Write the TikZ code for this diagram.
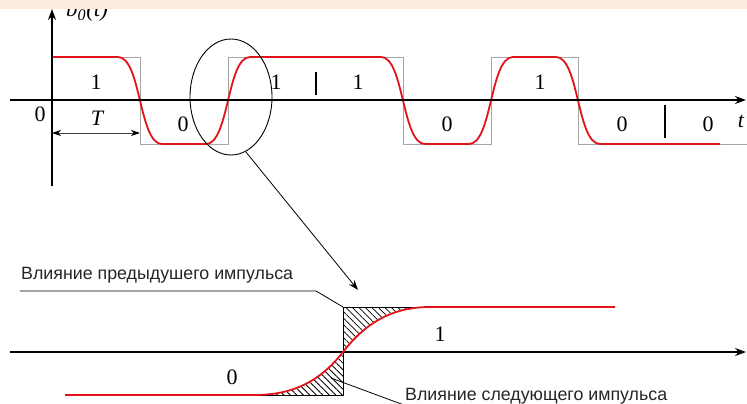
\documentclass[tikz,border=0pt]{standalone}
\usepackage{fontspec}
\setmainfont{Liberation Serif}
\newfontfamily\labsans{Liberation Sans}
\usetikzlibrary{arrows.meta,patterns.meta,shapes.geometric}
\definecolor{banner}{RGB}{252,235,221}
\definecolor{sigred}{RGB}{225,20,25}
\tikzset{
  axisline/.style={line width=1.8pt,-{Stealth[length=11pt,width=8pt]}},
  graywave/.style={line width=0.9pt,color=black!35},
  redwave/.style={line width=1.8pt,color=sigred},
  digit/.style={font=\fontsize{22}{24}\selectfont,inner sep=0pt},
  rulabel/.style={font=\labsans\fontsize{17.8}{19}\selectfont,inner sep=0pt,text=black!85},
  leader/.style={line width=0.8pt},
  tickmark/.style={line width=1.2pt},
  hatch/.style={pattern={Lines[angle=-45,distance=4.6pt,line width=0.8pt]}}
}
\begin{document}
\begin{tikzpicture}[x=1pt,y=-1pt]
\useasboundingbox (0,0) rectangle (747,404);
\fill[white] (0,0) rectangle (747,404);

% ---------- upper diagram ----------
\coordinate (yb) at (52,186);
\coordinate (yt) at (52,9);
\coordinate (xl) at (10,100);
\coordinate (xr) at (746,100);
\node[font=\fontsize{23}{24}\selectfont\itshape,anchor=west,inner sep=0pt] (blab) at (66,11) {b\textsubscript{0}(t)};

% gray ideal square wave
\draw[graywave] (52,57) -- (140,57) -- (140,144) -- (228,144) -- (228,57) -- (403,57) -- (403,144) -- (491,144) -- (491,57) -- (578,57) -- (578,144) -- (747,144);

% red smoothed wave
\draw[redwave] (52,57) -- (118,57)
  .. controls (141,57) and (139,144) .. (162,144) -- (206,144)
  .. controls (229,144) and (227,57) .. (250,57) -- (381,57)
  .. controls (404,57) and (402,144) .. (425,144) -- (469,144)
  .. controls (492,144) and (490,57) .. (513,57) -- (556,57)
  .. controls (579,57) and (577,144) .. (600,144) -- (720,144);

\draw[axisline] (yb) -- (yt);
\draw[axisline] (xl) -- (xr);

\draw[tickmark] (316,72) -- (316,95);
\draw[tickmark] (665,105) -- (665,138);

\node[digit] (d1) at (96,82) {1};
\node[digit] (d2) at (183,124) {0};
\node[digit] (d3) at (276,82) {1};
\node[digit] (d4) at (358,82) {1};
\node[digit] (d5) at (447,124) {0};
\node[digit] (d6) at (540,82) {1};
\node[digit] (d7) at (622,124) {0};
\node[digit] (d8) at (708,124) {0};
\node[digit] (orig) at (40,114) {0};
\node[digit,font=\fontsize{22}{24}\selectfont\itshape] (tlab) at (97,118) {T};
\node[digit,font=\fontsize{22}{24}\selectfont\itshape] (tax) at (741,121) {t};

\coordinate (ta) at (52,133);
\coordinate (tb) at (140,133);
\draw[line width=0.9pt,black!75,{Stealth[length=9pt,width=6pt,black]}-{Stealth[length=9pt,width=6pt,black]}] (ta) -- (tb);

% ellipse and pointer
\node[draw,ellipse,line width=0.9pt,minimum width=82pt,minimum height=116pt,inner sep=0pt] (ell) at (231,97) {};
\coordinate (ptip) at (358,290);
\draw[leader,-{Stealth[length=10pt,width=7pt]}] (ell.-75) -- (ptip);

% ---------- lower diagram ----------
\coordinate (bl) at (10,352);
\coordinate (br) at (746,352);

\fill[hatch] (343,352) .. controls (361,329) and (386,307) .. (430,307) -- (343,307) -- cycle;
\fill[hatch] (255,395) .. controls (300,395) and (325,375) .. (343,352) -- (343,395) -- cycle;
\draw[line width=0.9pt] (430,307) -- (343,307) -- (343,395) -- (255,395);

\draw[axisline] (bl) -- (br);

\draw[redwave] (65,395) -- (255,395)
  .. controls (300,395) and (325,375) .. (343,352)
  .. controls (361,329) and (386,307) .. (430,307) -- (615,307);

\node[digit] (b0) at (232,377) {0};
\node[digit] (b1) at (440,334) {1};

\node[rulabel,anchor=west] (prev) at (21,275) {Влияние предыдушего импульса};
\coordinate (p1) at (20,291);
\coordinate (p2) at (316,291);
\coordinate (p3) at (343,307);
\draw[leader] (p1) -- (p2) -- (p3);

\node[rulabel,anchor=west] (next) at (405,396) {Влияние следующего импульса};
\coordinate (n1) at (331,378);
\coordinate (n2) at (404,405);
\draw[leader] (n1) -- (n2);

% top banner
\fill[banner] (0,0) rectangle (747,9);
\end{tikzpicture}
\end{document}
